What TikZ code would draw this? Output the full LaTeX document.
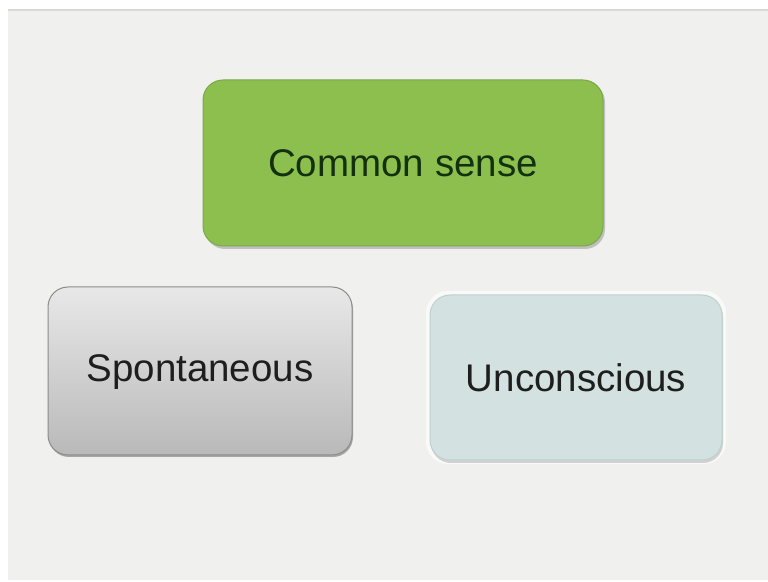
\documentclass[tikz,border=0pt]{standalone}
\usepackage{fontspec}
\setmainfont{Liberation Sans}
\definecolor{bgc}{HTML}{F0F0EE}
\definecolor{greenfill}{HTML}{8CBF4E}
\definecolor{greenedge}{HTML}{7AA84A}
\definecolor{greentext}{HTML}{13300F}
\definecolor{graytop}{HTML}{E8E8E8}
\definecolor{graybot}{HTML}{B9B9B9}
\definecolor{grayedge}{HTML}{8C8C8C}
\definecolor{bluefill}{HTML}{D3E1E1}
\definecolor{blueedge}{HTML}{BFD0D0}
\definecolor{darktext}{HTML}{1E1E1E}
\tikzset{
  x=1pt, y=1pt,
  boxtext/.style={font=\fontsize{38.5}{41}\selectfont, inner sep=0pt},
}
\begin{document}
\begin{tikzpicture}
\useasboundingbox (0,0) rectangle (768,581);
\fill[white] (0,0) rectangle (768,581);
\fill[bgc] (8,1) rectangle (768,571);
\draw[line width=1.5pt, color=black!15] (8,571) -- (768,571);
% Common sense
\fill[black!25, rounded corners=20pt] (205,332) rectangle (605,499);
\node[draw=greenedge, line width=1pt, fill=greenfill, rounded corners=20pt,
      minimum width=400pt, minimum height=166pt, inner sep=0pt] (cs) at (403,418) {};
\node[boxtext, text=greentext] (cstext) at (cs.center) {Common sense};
% Spontaneous
\fill[black!35, rounded corners=20pt] (49,124) rectangle (353,292);
\node[draw=grayedge, line width=1pt, top color=graytop, bottom color=graybot, rounded corners=20pt,
      minimum width=304pt, minimum height=168pt, inner sep=0pt] (sp) at (200,210) {};
\node[boxtext, text=darktext] (sptext) at ([yshift=-1pt]sp.center) {Spontaneous};
% Unconscious
\fill[white!60!bgc, rounded corners=22pt] (426,117) rectangle (726,290);
\fill[black!18, rounded corners=20pt] (431,118) rectangle (723,284);
\node[draw=blueedge, line width=1pt, fill=bluefill, rounded corners=20pt,
      minimum width=292pt, minimum height=165pt, inner sep=0pt] (un) at (576,203.5) {};
\node[boxtext, text=darktext] (untext) at ([yshift=0pt]un.center) {Unconscious};
\end{tikzpicture}
\end{document}
